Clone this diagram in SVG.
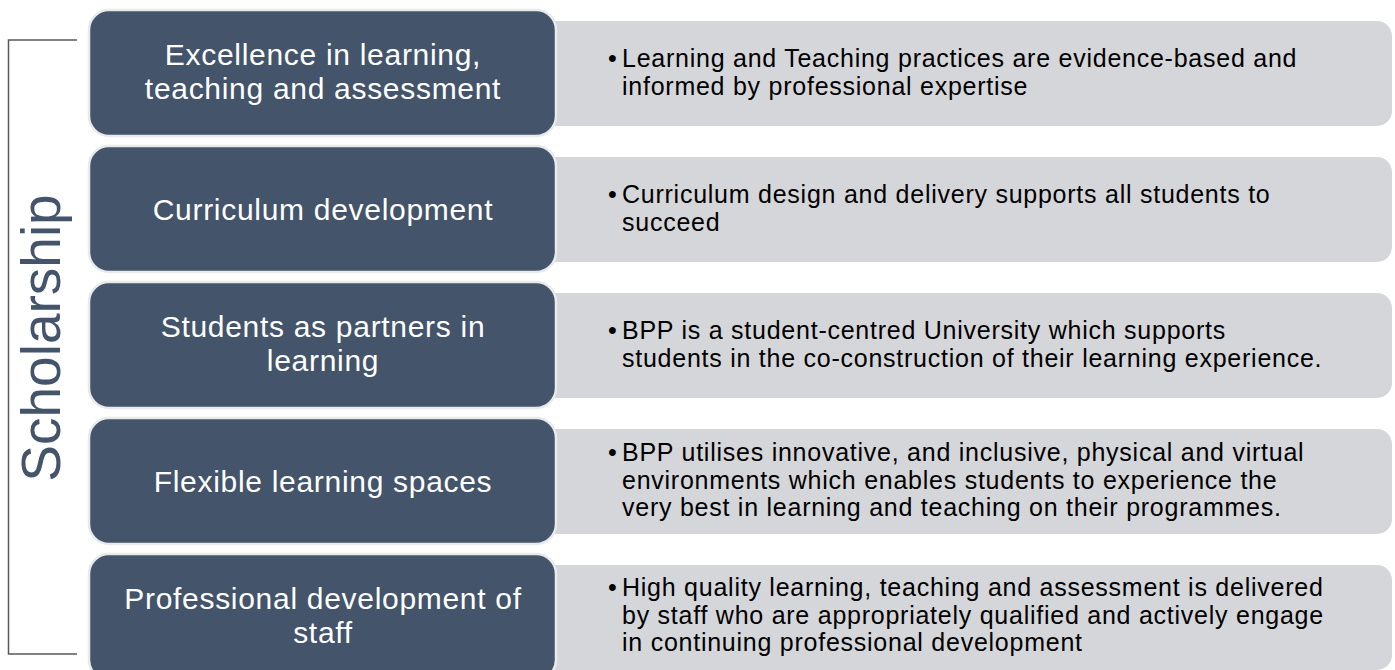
<svg xmlns="http://www.w3.org/2000/svg" width="1395" height="670" viewBox="0 0 1395 670">
  <style>
    .grey { fill: #D5D6DA; }
    .dark { fill: #44546A; stroke: #E9EAEC; stroke-width: 2.5; }
    .dt { font-family: "Liberation Sans", Arial, sans-serif; font-size: 30px; letter-spacing: 0.7px; fill: #FFFFFF; text-anchor: middle; }
    .gt { font-family: "Liberation Sans", Arial, sans-serif; font-size: 25px; letter-spacing: 0.75px; fill: #000000; }
    .title { font-family: "Liberation Sans", Arial, sans-serif; font-size: 55px; fill: #44546A; text-anchor: middle; }
  </style>
  <rect width="1395" height="670" fill="#FFFFFF"/>
  <g id="connectors">
    <path d="M77 40 H8.5 V654 H77" fill="none" stroke="#595959" stroke-width="1.5"/>
  </g>
  <g id="title">
    <text class="title" transform="translate(60 338) rotate(-90)">Scholarship</text>
  </g>
  <g id="row1">
    <rect class="grey" x="530" y="21" width="862" height="105" rx="15"/>
    <rect class="dark" x="89" y="10" width="467" height="126" rx="20"/>
    <text class="dt" x="323" y="65">Excellence in learning,</text>
    <text class="dt" x="323" y="99">teaching and assessment</text>
    <text class="gt" x="608" y="67">•<tspan x="622">Learning and Teaching practices are evidence-based and</tspan></text>
    <text class="gt" x="622" y="95">informed by professional expertise</text>
  </g>
  <g id="row2">
    <rect class="grey" x="530" y="157" width="862" height="105" rx="15"/>
    <rect class="dark" x="89" y="146" width="467" height="126" rx="20"/>
    <text class="dt" x="323" y="220">Curriculum development</text>
    <text class="gt" x="608" y="203">•<tspan x="622">Curriculum design and delivery supports all students to</tspan></text>
    <text class="gt" x="622" y="231">succeed</text>
  </g>
  <g id="row3">
    <rect class="grey" x="530" y="293" width="862" height="105" rx="15"/>
    <rect class="dark" x="89" y="282" width="467" height="126" rx="20"/>
    <text class="dt" x="323" y="337">Students as partners in</text>
    <text class="dt" x="323" y="371">learning</text>
    <text class="gt" x="608" y="339">•<tspan x="622">BPP is a student-centred University which supports</tspan></text>
    <text class="gt" x="622" y="367">students in the co-construction of their learning experience.</text>
  </g>
  <g id="row4">
    <rect class="grey" x="530" y="429" width="862" height="105" rx="15"/>
    <rect class="dark" x="89" y="418" width="467" height="126" rx="20"/>
    <text class="dt" x="323" y="492">Flexible learning spaces</text>
    <text class="gt" x="608" y="461">•<tspan x="622">BPP utilises innovative, and inclusive, physical and virtual</tspan></text>
    <text class="gt" x="622" y="488.5">environments which enables students to experience the</text>
    <text class="gt" x="622" y="516">very best in learning and teaching on their programmes.</text>
  </g>
  <g id="row5">
    <rect class="grey" x="530" y="565" width="862" height="105" rx="15"/>
    <rect class="dark" x="89" y="554" width="467" height="126" rx="20"/>
    <text class="dt" x="323" y="609">Professional development of</text>
    <text class="dt" x="323" y="643">staff</text>
    <text class="gt" x="608" y="596">•<tspan x="622">High quality learning, teaching and assessment is delivered</tspan></text>
    <text class="gt" x="622" y="623.5">by staff who are appropriately qualified and actively engage</text>
    <text class="gt" x="622" y="651">in continuing professional development</text>
  </g>
</svg>
